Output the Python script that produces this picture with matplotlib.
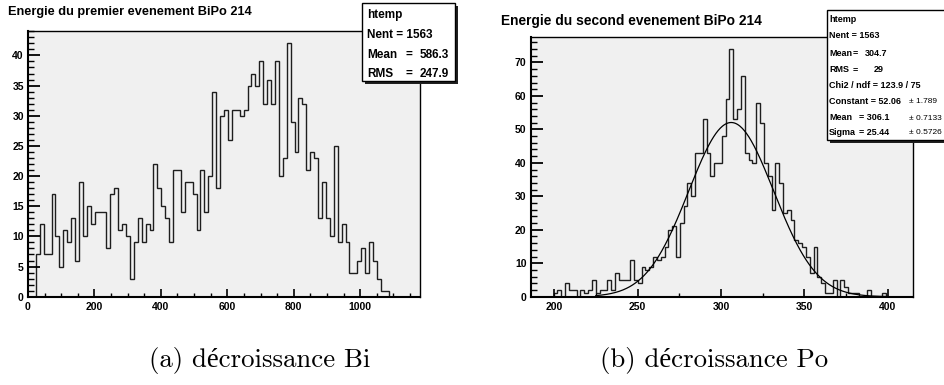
"""
Two ROOT-style histograms of BiPo 214 event energies (Bi and Po decays),
with stats boxes and a Gaussian fit on the Po spectrum.
Output : out.png
"""

import numpy as np
import matplotlib
matplotlib.use('Agg')
import matplotlib.pyplot as plt
from matplotlib.ticker import MultipleLocator
from matplotlib.patches import Rectangle

plt.rcParams['font.family'] = ['Liberation Sans', 'DejaVu Sans']
plt.rcParams['font.weight'] = 'bold'

# ── Data ──────────────────────────────────────────────────────
# first event (Bi): 100 bins over [0, 1180]
bi_range = (0, 1180)
bi_counts = [
    0, 0, 7, 12, 7, 7, 17, 10, 5, 11,
    9, 13, 6, 19, 10, 15, 12, 14, 14, 14,
    8, 17, 18, 11, 12, 10, 3, 9, 13, 9,
    12, 11, 22, 18, 15, 13, 9, 21, 21, 14,
    19, 19, 17, 11, 21, 14, 20, 34, 18, 30,
    31, 26, 31, 31, 30, 31, 35, 37, 35, 39,
    32, 36, 32, 39, 20, 23, 42, 29, 24, 33,
    32, 21, 24, 23, 13, 19, 13, 10, 25, 9,
    12, 9, 4, 4, 6, 8, 4, 9, 6, 3,
    1, 1, 0, 0, 0, 0, 0, 0, 0, 0,
]
bi_stats = ['htemp', 'Nent = 1563', ('Mean', '586.3'), ('RMS', '247.9')]

# second event (Po): 100 bins over [186, 415]
po_range = (186, 415)
po_counts = [
    0, 0, 0, 0, 0, 0, 1, 2, 0, 4,
    2, 2, 0, 2, 1, 2, 5, 1, 2, 2,
    5, 2, 7, 5, 5, 5, 11, 5, 4, 9,
    8, 9, 12, 11, 12, 15, 20, 21, 12, 22,
    27, 34, 30, 43, 43, 53, 43, 36, 40, 40,
    48, 59, 74, 53, 56, 66, 43, 41, 40, 58,
    52, 40, 36, 26, 40, 34, 25, 26, 23, 17,
    16, 15, 12, 7, 15, 6, 4, 1, 1, 5,
    0, 5, 3, 1, 1, 1, 0, 0, 2, 0,
    0, 0, 1, 0, 0, 0, 0, 0, 0, 0,
]
# gaussian fit shown in the stats box
fit_const, fit_mean, fit_sigma = 52.06, 306.1, 25.44
fit_errors = ['1.789', '0.7133', '0.5726']
fit_range = (225, 400)

W, H = 945, 385
FRAME_BG = '#f0f0f0'
LINE = '#1e1e1e'

fig = plt.figure(figsize=(W / 100, H / 100), dpi=100, facecolor='white')


def pixel_axes(x0, y0, x1, y1):
    return fig.add_axes([x0 / W, 1 - y1 / H, (x1 - x0) / W, (y1 - y0) / H])


def root_style(ax, xmaj, xmin, ymaj, ymin):
    ax.set_facecolor(FRAME_BG)
    ax.xaxis.set_major_locator(MultipleLocator(xmaj))
    ax.xaxis.set_minor_locator(MultipleLocator(xmin))
    ax.yaxis.set_major_locator(MultipleLocator(ymaj))
    ax.yaxis.set_minor_locator(MultipleLocator(ymin))
    ax.tick_params(which='both', direction='in', top=False, right=False,
                   colors='black', labelsize=7.5)
    ax.tick_params(axis='y', which='major', length=8.6, width=1.3, pad=3)
    ax.tick_params(axis='y', which='minor', length=4.3, width=1.0)
    ax.tick_params(axis='x', which='major', length=5.8, width=1.2, pad=4)
    ax.tick_params(axis='x', which='minor', length=2.9, width=1.0)
    for s in ['left', 'bottom']:
        ax.spines[s].set_linewidth(1.5)
    for s in ['top', 'right']:
        ax.spines[s].set_linewidth(1.0)


# ── Left: Bi ──────────────────────────────────────────────────
ax1 = pixel_axes(28, 30.7, 420, 296.7)
bi_edges = np.linspace(bi_range[0], bi_range[1], len(bi_counts) + 1)
ax1.stairs(bi_counts, bi_edges, color=LINE, lw=1.0)
ax1.set_xlim(*bi_range)
ax1.set_ylim(0, 1.05 * max(bi_counts))
root_style(ax1, 200, 50, 5, 1)

# ── Right: Po ─────────────────────────────────────────────────
ax2 = pixel_axes(530.7, 36.7, 913, 296.7)
po_edges = np.linspace(po_range[0], po_range[1], len(po_counts) + 1)
ax2.stairs(po_counts, po_edges, color=LINE, lw=1.0)
xf = np.linspace(fit_range[0], fit_range[1], 400)
ax2.plot(xf, fit_const * np.exp(-0.5 * ((xf - fit_mean) / fit_sigma) ** 2),
         color='black', lw=0.9)
ax2.set_xlim(*po_range)
ax2.set_ylim(0, 1.05 * max(po_counts))
root_style(ax2, 50, 25, 10, 2)

# ── Overlay in pixel units: titles, stat boxes, captions ──────
ov = fig.add_axes([0, 0, 1, 1], zorder=10)
ov.set_xlim(0, W)
ov.set_ylim(H, 0)
ov.axis('off')
ov.patch.set_visible(False)

ov.text(8, 12, 'Energie du premier evenement BiPo 214', fontsize=9.2,
        va='center', ha='left')
ov.text(501, 21, 'Energie du second evenement BiPo 214', fontsize=9.9,
        va='center', ha='left')


def stat_box(x0, y0, x1, y1):
    ov.add_patch(Rectangle((x0 + 3, y0 + 3), x1 - x0, y1 - y0,
                           facecolor='#202020', edgecolor='none', zorder=1))
    ov.add_patch(Rectangle((x0, y0), x1 - x0, y1 - y0, facecolor='white',
                           edgecolor='black', lw=1.0, zorder=2))


# left box
stat_box(362, 3, 455, 81)
fs = 8.5
ov.text(367, 15, bi_stats[0], fontsize=fs, va='center', zorder=3)
ov.text(367, 35.5, bi_stats[1], fontsize=fs, va='center', zorder=3)
for yy, (name, val) in zip([54.5, 74], bi_stats[2:]):
    ov.text(367, yy, name, fontsize=fs, va='center', zorder=3)
    ov.text(405, yy, '=', fontsize=fs, va='center', zorder=3)
    ov.text(420, yy, val, fontsize=fs, va='center', zorder=3)

# right box (runs past the figure edge, as in the original)
stat_box(827, 10, 975, 140)
fs = 6.5
rows = [20, 36, 53, 70, 85.5, 101.5, 118, 132.5]
ov.text(829, rows[0], 'htemp', fontsize=fs, va='center', zorder=3)
ov.text(829, rows[1], 'Nent = 1563', fontsize=fs, va='center', zorder=3)
ov.text(829, rows[2], 'Mean', fontsize=fs, va='center', zorder=3)
ov.text(853, rows[2], '=', fontsize=fs, va='center', zorder=3)
ov.text(865, rows[2], '304.7', fontsize=fs, va='center', zorder=3)
ov.text(829, rows[3], 'RMS', fontsize=fs, va='center', zorder=3)
ov.text(853, rows[3], '=', fontsize=fs, va='center', zorder=3)
ov.text(874, rows[3], '29', fontsize=fs, va='center', zorder=3)
ov.text(829, rows[4], 'Chi2 / ndf = 123.9 / 75', fontsize=fs, va='center', zorder=3)
ov.text(829, rows[5], f'Constant = {fit_const:.2f}', fontsize=fs, va='center', zorder=3)
ov.text(829, rows[6], 'Mean', fontsize=fs, va='center', zorder=3)
ov.text(859, rows[6], f'= {fit_mean:.1f}', fontsize=fs, va='center', zorder=3)
ov.text(829, rows[7], 'Sigma', fontsize=fs, va='center', zorder=3)
ov.text(859, rows[7], f'= {fit_sigma:.2f}', fontsize=fs, va='center', zorder=3)
for yy, err in zip(rows[5:], fit_errors):
    ov.text(909, yy, '\u00b1 ' + err, fontsize=6.0, va='center', zorder=3,
            fontweight='normal')

# captions
cap = dict(fontsize=19.3, va='center', ha='center', fontweight='normal',
           family=['cmr10', 'Liberation Serif'])
ov.text(260, 360, '(a) d\u00e9croissance Bi', **cap)
ov.text(714, 360, '(b) d\u00e9croissance Po', **cap)

fig.savefig('out.png', dpi=100, facecolor='white')
print("Saved → out.png")
